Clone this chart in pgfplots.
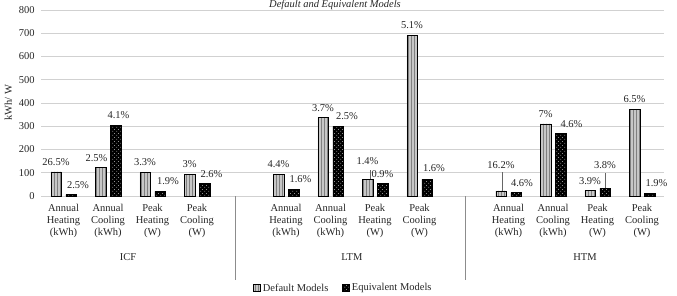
\documentclass[border=0pt]{standalone}
\usepackage{fontspec}
\setmainfont{Liberation Serif}
\usepackage{pgfplots}
\usepackage{pgfplotstable}
\pgfplotsset{compat=1.18}
\usetikzlibrary{patterns,patterns.meta}

\tikzdeclarepattern{
  name=sparsedots,
  type=uncolored,
  bounding box={(0pt,0pt) and (4pt,4pt)},
  tile size={(4pt,4pt)},
  code={
    \pgfpathcircle{\pgfqpoint{1pt}{1pt}}{0.45pt}
    \pgfpathcircle{\pgfqpoint{3pt}{3pt}}{0.45pt}
    \pgfusepath{fill}
  }
}

\pgfplotstableread{
x y lab dx dy
0 104 26.5 0 10
1 122 2.5 -4 10
2 102 3.3 0 10
3 93 3 0 10
5 93 4.4 0 10
6 337 3.7 0 10
7 72 1.4 0 18
8 690 5.1 0 10
10 22 16.2 0 26
11 310 7 0 10
12 23 3.9 0 10
13 373 6.5 0 10
}\defaulttable

\pgfplotstableread{
x y lab dx dy
0 6 2.5 7 10
1 305 4.1 3 10
2 20 1.9 8 10
3 53 2.6 7 9.5
5 30 1.6 7 10
6 301 2.5 9 10
7 53 0.9 0 10
8 72 1.6 7 11
10 14 4.6 6 10
11 270 4.6 11 9.5
12 33 3.8 0 23
13 12 1.9 7 10
}\equivtable

\begin{document}
\begin{tikzpicture}[font=\fontsize{10.5}{12}\selectfont, text=black!85]
\useasboundingbox (0,0) rectangle (677pt,295pt);
\begin{axis}[
  at={(41.25pt,99pt)}, anchor=south west,
  width=623pt, height=186pt, scale only axis,
  ybar=4.5pt, bar width=10.5pt,
  xmin=-0.5, xmax=13.5, ymin=0, ymax=800,
  ytick={0,100,...,800},
  xtick={0,1,2,3,5,6,7,8,10,11,12,13},
  xticklabels={
    {Annual\\Heating\\(kWh)},{Annual\\Cooling\\(kWh)},{Peak\\Heating\\(W)},{Peak\\Cooling\\(W)},
    {Annual\\Heating\\(kWh)},{Annual\\Cooling\\(kWh)},{Peak\\Heating\\(W)},{Peak\\Cooling\\(W)},
    {Annual\\Heating\\(kWh)},{Annual\\Cooling\\(kWh)},{Peak\\Heating\\(W)},{Peak\\Cooling\\(W)}},
  xticklabel style={align=center, font=\fontsize{10.5}{12}\selectfont, yshift=-5pt},
  yticklabel style={font=\fontsize{10.5}{12}\selectfont, xshift=-3pt},
  /pgf/number format/assume math mode=true,
  axis line style={draw=none},
  major tick length=0pt,
  ymajorgrids, grid style={black!18, line width=0.8pt},
  clip=false,
  every axis y label/.style={at={(axis description cs:-0.053,0.5)}, rotate=90, anchor=center},
  ylabel={kWh/ W},
  nodes near coords={\pgfplotspointmeta\%},
  point meta=explicit symbolic,
  visualization depends on={\thisrow{dx}\as\dx},
  visualization depends on={\thisrow{dy}\as\dy},
  every node near coord/.append style={anchor=center, xshift=\dx pt, yshift=\dy pt, font=\fontsize{10.5}{12}\selectfont, text=black!85},
  legend style={at={(0.485,-0.495)}, anchor=center, draw=none, fill=none, legend columns=2,
    /tikz/every even column/.append style={column sep=12pt}, font=\fontsize{10.5}{12}\selectfont},
]
\addplot[draw=black, line width=0.5pt, fill=black!22, postaction={pattern=vertical lines, pattern color=black!50},
  legend image code/.code={\draw[draw=black, fill=black!22, postaction={pattern=vertical lines, pattern color=black!50}] (0pt,-3.5pt) rectangle (7pt,3.5pt);}]
  table[x=x, y=y, meta=lab] {\defaulttable};
\addlegendentry{Default Models}
\addplot[draw=black, line width=0.5pt, fill=black, postaction={pattern=sparsedots, pattern color=white},
  legend image code/.code={\draw[draw=black, fill=black] (0pt,-3.5pt) rectangle (7pt,3.5pt);}]
  table[x=x, y=y, meta=lab] {\equivtable};
\addlegendentry{Equivalent Models}
\draw[black!60, line width=0.5pt] ([xshift=-4.8pt]axis cs:7,72) -- ++(0pt,9pt);
\draw[black!60, line width=0.5pt] ([xshift=-6.5pt]axis cs:10,22) -- ++(0pt,19pt);
\draw[black!60, line width=0.5pt] ([xshift=7.5pt]axis cs:12,33) -- ++(0pt,15pt);
\draw[black!45, line width=0.8pt] (axis cs:3.87,0) -- ++(0pt,-84pt);
\draw[black!45, line width=0.8pt] (axis cs:9.04,0) -- ++(0pt,-84pt);
\node[anchor=center] at ([yshift=-61pt]axis cs:1.45,0) {ICF};
\node[anchor=center] at ([yshift=-61pt]axis cs:6.48,0) {LTM};
\node[anchor=center] at ([yshift=-61pt]axis cs:11.72,0) {HTM};
\end{axis}
\node[font=\fontsize{10.5}{12}\selectfont\itshape, anchor=base] at (335pt,287.5pt) {Default and Equivalent Models};
\end{tikzpicture}
\end{document}
